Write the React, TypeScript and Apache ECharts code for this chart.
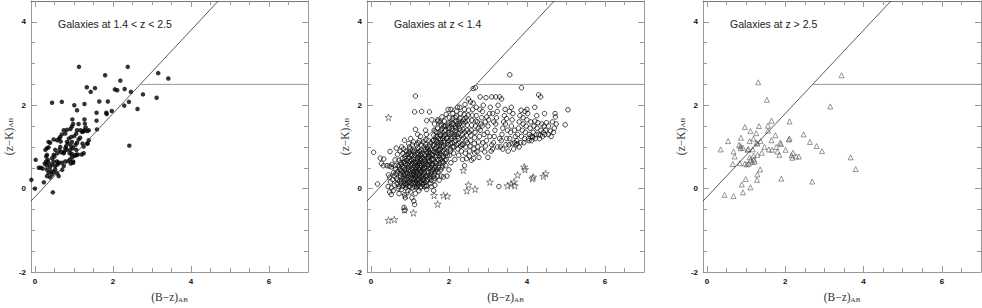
import React, { useEffect, useRef } from "react";
import * as echarts from "echarts";

// ---------- data ----------
const panelTitles = ["Galaxies at 1.4 < z < 2.5", "Galaxies at z < 1.4", "Galaxies at z > 2.5"];
const xTickLabels = [0, 2, 4, 6];
const xMinorTicks = [0.5, 1, 1.5, 2.5, 3, 3.5, 4.5, 5, 5.5, 6.5];
const yTickLabels = [-2, 0, 2, 4];
const yMajorTicks = [0, 2, 4];
const yMinorTicks = [-1.5, -1, -0.5, 0.5, 1, 1.5, 2.5, 3, 3.5];
const xRange = [-0.1, 7];
const yRange = [-2, 4.5];

// BzK selection boundaries
const diagonalLine = [[-0.1, -0.3], [4.7, 4.5]];
const horizontalLine = [[2.7, 2.5], [7, 2.5]];

// panel 1: 1.4 < z < 2.5 (filled circles)
const midZ = [
  [-0.09,0.21],[0.0,0.0],[0.02,0.69],[0.1,0.5],[0.15,0.5],[0.2,0.48],[0.23,0.15],[0.46,-0.09],
  [0.44,2.06],[0.69,2.08],[1.01,2.0],[1.08,1.88],[1.13,2.92],[1.27,2.03],[1.33,2.43],[1.43,2.32],
  [1.54,2.41],[1.65,2.09],[1.8,2.72],[1.87,2.09],[2.05,2.38],[2.11,2.36],[2.19,2.59],[2.3,2.39],
  [2.38,2.92],[2.46,2.32],[2.29,1.99],[2.41,2.08],[2.63,1.91],[2.77,2.26],[3.16,2.77],[3.42,2.64],
  [3.12,2.18],[2.42,1.03],[1.97,1.86],[1.83,1.82],[1.84,1.79],[1.58,1.82],[1.58,1.63],[1.59,1.42],
  [1.35,1.08],[1.22,1.08],[1.27,1.66],[1.28,1.56],[1.3,1.47],[1.27,1.4],[1.24,1.37],[1.12,1.55],
  [0.96,1.66],[0.98,1.55],[0.95,1.49],[0.91,1.43],[1.08,1.4],[1.06,1.32],[1.01,1.26],[1.17,1.4],
  [1.21,1.36],[1.34,1.38],[1.38,1.4],[0.74,1.4],[0.82,1.41],[0.78,1.32],[0.69,1.3],[0.65,1.24],
  [0.57,1.16],[0.48,1.18],[0.39,1.1],[0.35,1.12],[0.62,1.2],[0.66,1.13],[0.87,1.2],[0.93,1.24],
  [0.82,1.12],[0.86,1.08],[0.8,1.02],[0.78,0.97],[0.82,0.93],[0.75,0.89],[0.74,0.85],[0.95,1.12],
  [0.93,1.02],[0.98,0.97],[0.91,0.93],[1.04,1.05],[1.06,0.93],[1.04,0.81],[1.12,1.18],[1.16,1.22],
  [1.08,1.1],[1.25,1.01],[1.34,1.08],[1.38,1.16],[1.0,0.78],[1.06,0.8],[1.1,0.82],[1.2,0.82],
  [1.25,0.85],[0.65,1.0],[0.63,0.93],[0.67,0.87],[0.52,0.93],[0.57,0.85],[0.48,0.81],[0.5,0.77],
  [0.31,0.97],[0.35,0.99],[0.27,0.93],[0.31,0.81],[0.29,0.77],[0.33,0.69],[0.29,0.65],[0.35,0.62],
  [0.44,0.73],[0.48,0.65],[0.44,0.58],[0.52,0.54],[0.39,0.52],[0.57,0.65],[0.58,0.58],[0.61,0.62],
  [0.31,0.46],[0.35,0.38],[0.41,0.42],[0.48,0.4],[0.52,0.46],[0.31,0.3],[0.39,0.27],[0.44,0.34],
  [0.57,0.37],[0.61,0.3],[0.69,0.62],[0.74,0.54],[0.78,0.65],[0.7,0.45],[0.86,0.66],[0.9,0.7],
  [0.95,0.76],[0.98,0.62],[0.92,0.6],[0.3,0.56],[0.25,0.6],[0.89,0.85],[0.95,0.83],[0.98,0.65],
];

// panel 2: z < 1.4 galaxies (open circles)
const lowZ = [
  [0.07,0.87],[0.17,0.11],[0.24,0.73],[0.33,0.71],[0.32,0.55],[0.27,0.6],[0.41,0.55],[0.47,0.54],
  [0.49,0.89],[0.54,0.58],[0.62,0.69],[0.65,0.97],[0.52,0.52],[0.45,0.33],[0.48,0.27],[0.5,0.16],
  [0.44,0.05],[0.53,0.02],[0.48,-0.08],[0.52,-0.14],[0.57,-0.05],[0.6,0.08],[0.56,0.22],[0.58,0.38],
  [0.63,0.47],[0.6,0.3],[0.67,0.12],[0.66,0.25],[0.69,0.4],[0.7,0.55],[0.72,0.68],[0.68,0.82],
  [0.75,0.9],[0.86,1.16],[0.79,1.0],
  [0.72,0.05],[0.74,0.18],[0.76,0.3],[0.75,0.45],[0.78,0.58],[0.8,0.72],[0.82,0.85],[0.84,0.95],
  [0.77,0.12],[0.8,0.25],[0.82,0.4],[0.85,0.5],[0.86,0.65],[0.88,0.78],[0.9,0.9],[0.79,-0.02],
  [0.83,0.08],[0.86,0.2],[0.88,0.33],[0.9,0.45],[0.89,0.6],[0.86,-0.15],[0.88,-0.22],[0.85,-0.45],
  [0.87,-0.52],[0.72,-0.12],[0.75,0.37],[0.8,0.52],[0.84,0.28],[0.87,0.12],[0.9,0.02],
  [0.92,0.1],[0.93,0.22],[0.94,0.36],[0.95,0.5],[0.96,0.62],[0.97,0.75],[0.98,0.88],[0.99,1.0],
  [1.0,0.05],[1.0,0.18],[1.01,0.3],[1.02,0.42],[1.03,0.55],[1.04,0.68],[1.05,0.8],[1.06,0.92],
  [1.07,1.05],[1.08,0.12],[1.08,0.25],[1.09,0.38],[1.1,0.5],[1.1,0.62],[1.1,0.75],[1.1,0.88],
  [0.95,-0.05],[1.02,-0.08],[0.98,0.15],[1.05,0.35],[0.93,0.58],[1.07,0.45],[1.03,0.7],[0.96,0.83],
  [1.0,0.95],[1.09,1.12],[0.97,1.08],[1.02,1.2],[1.1,-0.3],[1.12,-0.38],[1.05,-0.22],
  [1.12,0.05],[1.13,0.15],[1.14,0.27],[1.15,0.38],[1.16,0.5],[1.17,0.62],[1.18,0.74],[1.19,0.86],
  [1.2,0.98],[1.21,1.1],[1.22,0.08],[1.23,0.2],[1.24,0.32],[1.25,0.44],[1.26,0.56],[1.27,0.68],
  [1.28,0.8],[1.29,0.92],[1.3,1.04],[1.15,0.1],[1.18,0.22],[1.2,0.35],[1.22,0.47],[1.24,0.6],
  [1.26,0.72],[1.28,0.42],[1.19,0.55],[1.16,0.02],[1.25,0.15],[1.29,0.28],[1.12,0.92],[1.17,1.05],
  [1.24,1.15],[1.27,1.25],[1.14,1.42],[1.2,1.3],[1.29,0.05],[1.23,-0.05],[1.14,-0.12],[1.2,0.68],
  [1.26,0.88],[1.3,0.6],[1.3,0.15],[1.13,0.34],[1.21,0.82],[1.14,2.22],[1.12,1.84],
  [1.32,0.1],[1.33,0.22],[1.34,0.34],[1.35,0.46],[1.36,0.58],[1.37,0.7],[1.38,0.82],[1.39,0.94],
  [1.4,1.06],[1.41,1.18],[1.42,0.05],[1.43,0.18],[1.44,0.3],[1.45,0.42],[1.46,0.54],[1.47,0.66],
  [1.48,0.78],[1.49,0.9],[1.5,1.02],[1.35,0.28],[1.38,0.5],[1.41,0.62],[1.44,0.74],[1.47,0.38],
  [1.33,0.75],[1.36,1.0],[1.42,1.3],[1.48,1.15],[1.5,0.25],[1.31,0.42],[1.39,0.15],[1.46,0.86],
  [1.34,1.12],[1.4,1.4],[1.3,1.85],[1.44,1.0],[1.49,0.58],[1.37,0.05],[1.43,-0.02],
  [1.52,0.12],[1.53,0.28],[1.54,0.42],[1.55,0.55],[1.56,0.68],[1.57,0.8],[1.58,0.92],[1.59,1.04],
  [1.6,1.16],[1.61,1.28],[1.62,0.2],[1.63,0.35],[1.64,0.5],[1.65,0.62],[1.66,0.75],[1.67,0.88],
  [1.68,1.0],[1.69,1.12],[1.7,1.24],[1.55,0.05],[1.6,0.45],[1.58,0.72],[1.65,0.95],[1.62,1.4],
  [1.56,1.65],[1.7,0.3],[1.68,0.6],[1.54,1.1],[1.67,1.36],[1.52,0.85],[1.64,0.08],[1.61,-0.05],
  [1.7,0.85],[1.59,0.58],[1.66,1.18],[1.5,1.84],[1.63,1.55],[1.43,1.63],[1.71,1.65],
  [1.72,0.4],[1.73,0.55],[1.74,0.68],[1.75,0.8],[1.76,0.92],[1.77,1.04],[1.78,1.16],[1.79,1.28],
  [1.8,1.4],[1.81,1.52],[1.82,0.5],[1.83,0.65],[1.84,0.78],[1.85,0.9],[1.86,1.02],[1.87,1.14],
  [1.88,1.26],[1.89,1.38],[1.9,1.5],[1.75,0.2],[1.8,0.3],[1.85,0.62],[1.78,0.95],[1.72,1.62],
  [1.82,1.72],[1.88,1.62],[1.74,1.1],[1.9,0.85],[1.86,0.28],[1.79,0.7],[1.71,1.45],[1.84,1.2],
  [1.77,1.6],
  [1.92,0.55],[1.93,0.7],[1.94,0.85],[1.95,0.98],[1.96,1.1],[1.97,1.22],[1.98,1.34],[1.99,1.46],
  [2.0,1.58],[2.01,1.7],[2.02,0.8],[2.03,0.95],[2.04,1.08],[2.05,1.2],[2.06,1.32],[2.07,1.44],
  [2.08,1.56],[2.09,1.68],[2.1,1.8],[1.95,0.3],[2.0,0.45],[2.05,0.62],[1.98,1.9],[2.05,1.9],
  [1.93,1.78],[2.1,1.0],[2.0,1.15],[1.91,1.3],[2.08,1.25],[1.96,1.52],
  [2.12,0.85],[2.13,1.0],[2.14,1.12],[2.15,1.25],[2.16,1.38],[2.17,1.5],[2.18,1.62],[2.19,1.74],
  [2.2,1.86],[2.22,1.95],[2.23,0.95],[2.24,1.08],[2.25,1.2],[2.26,1.32],[2.27,1.44],[2.28,1.56],
  [2.29,1.68],[2.3,1.8],[2.15,0.7],[2.2,1.3],[2.25,0.8],[2.18,1.15],[2.3,1.02],[2.21,1.55],
  [2.28,1.95],
  [2.32,0.9],[2.33,1.05],[2.34,1.18],[2.35,1.3],[2.36,1.42],[2.37,1.55],[2.38,1.66],[2.39,1.78],
  [2.4,1.9],[2.41,2.02],[2.42,0.85],[2.43,1.0],[2.44,1.15],[2.45,1.28],[2.46,1.4],[2.47,1.52],
  [2.48,1.64],[2.49,1.76],[2.5,1.88],[2.35,0.7],[2.4,0.55],[2.45,0.72],[2.38,1.22],[2.48,1.1],
  [2.5,2.15],[2.42,1.6],
  [2.52,0.78],[2.53,0.9],[2.54,1.02],[2.55,1.15],[2.56,1.28],[2.57,1.4],[2.58,1.52],[2.59,1.64],
  [2.6,1.76],[2.61,1.9],[2.62,2.05],[2.63,0.72],[2.64,0.95],[2.65,1.08],[2.66,1.22],[2.67,1.35],
  [2.68,1.5],[2.69,1.62],[2.7,1.75],[2.55,2.08],[2.68,2.42],[2.62,2.4],[2.7,1.95],[2.58,0.68],
  [2.66,0.85],[2.52,1.35],
  [2.72,0.88],[2.74,1.0],[2.76,1.12],[2.78,1.25],[2.8,1.4],[2.82,1.55],[2.84,1.7],[2.86,1.85],
  [2.88,2.0],[2.8,2.2],[2.73,1.6],[2.77,0.75],[2.83,0.95],[2.87,1.1],[2.9,1.3],[2.75,1.45],
  [2.85,1.5],[2.79,1.9],
  [2.92,0.88],[2.94,1.02],[2.96,1.15],[2.98,1.35],[3.0,1.5],[3.02,1.65],[3.04,1.8],[3.06,1.95],
  [2.95,2.18],[3.08,0.9],[3.1,1.05],[2.93,1.6],[3.0,0.75],[3.05,1.25],[3.1,2.2],[2.97,1.72],
  [3.12,0.95],[3.14,1.1],[3.16,1.25],[3.18,1.4],[3.2,1.55],[3.22,1.7],[3.24,1.85],[3.26,2.0],
  [3.2,2.2],[3.28,0.05],[3.15,1.6],[3.25,1.0],[3.3,1.2],[3.3,2.2],[3.12,1.8],
  [3.32,1.0],[3.34,1.15],[3.36,1.3],[3.38,1.45],[3.4,1.6],[3.42,1.75],[3.44,1.9],[3.35,2.15],
  [3.46,1.05],[3.48,1.2],[3.5,1.4],[3.45,1.55],[3.38,0.95],[3.48,1.68],
  [3.52,0.9],[3.54,1.05],[3.56,1.2],[3.58,1.35],[3.6,1.5],[3.62,1.65],[3.64,1.8],[3.56,2.73],
  [3.66,0.95],[3.68,1.1],[3.7,1.25],[3.55,1.85],[3.6,1.95],[3.68,1.4],[3.62,1.08],
  [3.72,1.05],[3.74,1.15],[3.76,1.3],[3.78,1.45],[3.8,1.6],[3.82,1.75],[3.84,1.1],[3.86,1.25],
  [3.88,1.4],[3.9,1.55],[3.86,2.42],[3.85,1.88],[3.75,1.08],[3.8,1.0],[3.9,1.7],
  [3.92,1.1],[3.94,1.2],[3.96,1.35],[3.98,1.5],[4.0,1.65],[4.02,1.8],[4.04,1.2],[4.06,1.3],
  [4.08,1.45],[4.1,1.6],[4.0,1.9],[3.95,1.85],[4.05,1.15],[4.1,1.25],
  [4.12,1.15],[4.14,1.25],[4.16,1.35],[4.18,1.5],[4.2,1.62],[4.22,1.2],[4.24,1.3],[4.26,1.45],
  [4.28,1.58],[4.3,2.25],[4.2,1.95],[4.15,1.22],[4.3,1.3],[4.25,1.75],
  [4.32,1.2],[4.34,1.28],[4.36,1.4],[4.38,1.55],[4.4,1.25],[4.42,1.35],[4.44,1.5],[4.46,1.3],
  [4.48,1.4],[4.35,2.2],[4.5,1.58],[4.45,1.8],
  [4.55,1.3],[4.6,1.38],[4.62,1.25],[4.68,1.35],[4.7,1.45],[4.72,1.8],[4.73,1.72],[4.75,1.55],
  [4.98,1.53],[5.05,1.89],[4.65,1.6],[4.55,1.5],
  // dense core
  [0.62,0.55],[0.65,0.35],[0.68,0.2],[0.7,0.0],[0.73,0.52],[0.76,0.62],[0.78,0.42],[0.79,0.18],
  [0.81,0.05],[0.83,0.62],[0.84,0.35],[0.86,0.45],[0.87,0.72],[0.88,0.25],[0.89,0.08],[0.91,0.38],
  [0.92,0.68],[0.93,0.82],[0.94,0.15],[0.95,0.28],[0.96,0.44],[0.97,0.55],[0.98,0.05],[0.99,0.35],
  [1.0,0.65],[1.01,0.82],[1.02,0.12],[1.03,0.25],[1.04,0.48],[1.05,0.6],[1.06,0.02],[1.07,0.18],
  [1.08,0.32],[1.09,0.7],[1.1,0.42],[1.11,0.22],[1.12,0.56],[1.13,0.8],[1.14,0.62],[1.15,0.45],
  [1.16,0.3],[1.17,0.18],[1.18,0.05],[1.19,0.4],[1.2,0.12],[1.21,0.25],[1.22,0.62],[1.23,0.75],
  [1.24,0.9],[1.25,0.5],[1.26,0.38],[1.27,0.02],[1.28,0.18],[1.29,0.55],[1.3,0.72],[1.31,0.85],
  [1.32,0.3],[1.33,0.48],[1.34,0.62],[1.35,0.12],[1.36,0.2],[1.37,0.4],[1.38,0.65],[1.39,0.78],
  [1.4,0.3],[1.41,0.5],[1.42,0.88],[1.43,0.08],[1.44,0.58],[1.45,0.22],[1.46,0.95],[1.47,0.72],
  [1.48,0.48],[1.49,0.32],[1.5,0.65],[1.51,0.78],[1.52,0.5],[1.53,0.95],[1.54,0.2],[1.55,0.35],
  [1.56,0.82],[1.57,0.6],[1.58,0.45],[1.59,1.15],[1.6,0.3],[1.61,0.7],[1.62,0.88],[1.63,1.05],
  [1.64,0.25],[1.65,0.42],[1.66,0.55],[1.67,1.25],[1.68,0.8],[1.69,0.45],[1.7,1.05],[1.71,0.7],
  [1.72,0.92],[1.73,1.2],[1.74,0.5],[1.75,1.35],[1.76,0.62],[1.77,0.85],[1.78,1.3],[1.79,0.45],
  [1.8,1.1],[1.81,0.8],[1.82,1.0],[1.83,1.45],[1.84,0.55],[1.85,1.25],[1.86,0.75],[1.87,1.5],
  [1.88,0.95],[1.89,1.1],[1.9,0.68],[1.92,1.4],[1.94,1.2],[1.96,0.8],[1.98,1.05],[2.0,1.3],
  [2.02,1.45],[2.04,0.9],[2.06,1.6],[2.08,1.1],[2.1,1.4],[2.12,1.55],[2.14,1.3],[2.16,1.7],
  [2.18,1.45],[2.2,1.05],[2.22,1.25],[2.24,1.5],[2.26,1.62],[2.3,1.4],[2.34,1.6],[2.36,1.05],
  [2.4,1.35],[2.44,1.7],
];

// panel 2: stars
const stars = [
  [0.45,1.71],[0.45,-0.76],[0.6,-0.74],[0.86,-0.51],[1.09,-0.58],[1.62,-0.16],[1.71,-0.37],
  [1.86,-0.16],[1.96,-0.18],[2.37,0.44],[2.5,0.09],[2.46,-0.05],[2.67,-0.01],[3.05,0.16],
  [3.5,0.07],[3.59,0.11],[3.67,0.16],[3.69,0.07],[3.76,0.33],[3.93,0.52],[3.95,0.46],
  [4.16,0.28],[4.14,0.24],[4.42,0.3],[4.48,0.36],[0.88,-0.16],
];

// panel 3: z > 2.5 (open triangles)
const highZ = [
  [1.31,2.55],[1.53,2.13],[3.44,2.72],[3.15,1.97],[1.65,1.63],[2.11,1.61],[1.56,1.51],[1.33,1.5],
  [0.97,1.48],[1.11,1.38],[1.26,1.33],[1.56,1.39],[1.75,1.28],[1.65,1.16],[2.11,1.2],[2.09,1.18],
  [2.47,1.3],[0.87,1.22],[0.54,1.14],[1.09,1.14],[1.27,1.1],[1.29,1.08],[1.37,1.14],[1.47,1.0],
  [1.58,0.94],[1.66,0.93],[1.77,1.0],[1.87,1.1],[1.89,1.07],[1.8,0.89],[1.85,0.81],[2.01,0.93],
  [2.2,0.86],[2.16,0.8],[2.18,0.74],[2.28,0.77],[2.35,0.77],[2.63,1.12],[2.8,1.02],[2.94,0.9],
  [0.35,0.94],[0.82,1.05],[0.86,1.02],[0.86,0.97],[0.68,0.89],[0.71,0.77],[1.06,0.95],[1.04,0.93],
  [1.17,0.94],[1.19,1.2],[0.92,0.98],[0.66,0.59],[0.84,0.61],[0.97,0.6],[1.02,0.58],[1.07,0.6],
  [1.11,0.68],[1.16,0.64],[1.2,0.7],[1.22,0.65],[1.09,0.75],[1.19,0.79],[1.29,0.81],[1.4,0.86],
  [1.36,0.46],[1.29,0.34],[1.28,0.21],[0.99,0.23],[0.89,0.1],[1.11,0.03],[0.92,-0.09],[0.45,-0.15],
  [0.68,-0.18],[1.9,0.24],[2.69,0.17],[3.67,0.75],[3.8,0.47],
];

const STAR_PATH = "path://M50,0 L61,35 L98,35 L68,57 L79,91 L50,70 L21,91 L32,57 L2,35 L39,35 Z";

const gridLefts = [31, 367, 703];
const gridWidths = [277, 277, 278];

function buildOption() {
  const axisColor = "#999";
  const labelStyle = { fontSize: 8, fontWeight: "bold", color: "#111", fontFamily: "Liberation Sans" };
  const nameRich = {
    a: { fontSize: 11.5, fontFamily: "Liberation Serif", color: "#333", lineHeight: 14, verticalAlign: "bottom" },
    b: { fontSize: 7, fontFamily: "Liberation Serif", color: "#333", lineHeight: 8, verticalAlign: "bottom" },
  };
  const grid: any[] = [];
  const xAxis: any[] = [];
  const yAxis: any[] = [];
  const title: any[] = [];
  for (let i = 0; i < 3; i++) {
    grid.push({ left: gridLefts[i], top: 1, width: gridWidths[i], height: 277 });
    const baseX = { gridIndex: i, type: "value", min: xRange[0], max: xRange[1], splitLine: { show: false } };
    const baseY = { gridIndex: i, type: "value", min: yRange[0], max: yRange[1], splitLine: { show: false } };
    const line = (show: boolean) => ({ show, onZero: false, lineStyle: { color: axisColor, width: 1 } });
    const tick = (vals: number[], len: number) => ({ show: true, inside: true, length: len, customValues: vals, lineStyle: { color: axisColor } });
    xAxis.push({
      ...baseX, position: "bottom", axisLine: line(true), axisTick: tick(xTickLabels, 6),
      axisLabel: { show: true, customValues: xTickLabels, margin: 5, ...labelStyle },
      name: "{a|(B−z)}{b|AB}", nameLocation: "middle", nameGap: 17, nameTextStyle: { rich: nameRich },
    });
    xAxis.push({ ...baseX, position: "bottom", axisLine: line(false), axisTick: tick(xMinorTicks, 4), axisLabel: { show: false } });
    xAxis.push({ ...baseX, position: "top", axisLine: { show: true, onZero: false, lineStyle: { color: "#777", width: 1 } }, axisTick: tick(xTickLabels, 6), axisLabel: { show: false } });
    xAxis.push({ ...baseX, position: "top", axisLine: line(false), axisTick: tick(xMinorTicks, 4), axisLabel: { show: false } });
    yAxis.push({
      ...baseY, position: "left", axisLine: line(true), axisTick: tick(yMajorTicks, 6),
      axisLabel: { show: true, customValues: yTickLabels, margin: 5, ...labelStyle },
      name: "{a|(z−K)}{b|AB}", nameLocation: "middle", nameGap: 14, nameRotate: 90, nameTextStyle: { rich: nameRich },
    });
    yAxis.push({ ...baseY, position: "left", axisLine: line(false), axisTick: tick(yMinorTicks, 4), axisLabel: { show: false } });
    yAxis.push({ ...baseY, position: "right", axisLine: line(true), axisTick: tick(yMajorTicks, 6), axisLabel: { show: false } });
    yAxis.push({ ...baseY, position: "right", axisLine: line(false), axisTick: tick(yMinorTicks, 4), axisLabel: { show: false } });
    title.push({
      text: panelTitles[i], left: gridLefts[i] + 22, top: 13,
      textStyle: { fontSize: 10.5, fontWeight: "normal", color: "#222", fontFamily: "Liberation Sans" },
    });
  }

  const series: any[] = [];
  for (let i = 0; i < 3; i++) {
    const ax = { xAxisIndex: i * 4, yAxisIndex: i * 4 };
    series.push({ type: "line", ...ax, data: diagonalLine, symbol: "none", lineStyle: { color: "#333", width: 0.8 }, silent: true, clip: true });
    series.push({ type: "line", ...ax, data: horizontalLine, symbol: "none", lineStyle: { color: "#999", width: 1 }, silent: true, clip: true });
  }
  series.push({ type: "scatter", xAxisIndex: 0, yAxisIndex: 0, data: midZ, symbol: "circle", symbolSize: 4.5, itemStyle: { color: "#000" } });
  series.push({
    type: "scatter", xAxisIndex: 4, yAxisIndex: 4, data: lowZ, symbol: "circle", symbolSize: 4.5,
    itemStyle: { color: "rgba(0,0,0,0)", borderColor: "#111", borderWidth: 1 },
  });
  series.push({
    type: "scatter", xAxisIndex: 4, yAxisIndex: 4, data: stars, symbol: STAR_PATH, symbolSize: 7,
    itemStyle: { color: "rgba(0,0,0,0)", borderColor: "#333", borderWidth: 0.7 },
  });
  series.push({
    type: "scatter", xAxisIndex: 8, yAxisIndex: 8, data: highZ, symbol: "triangle", symbolSize: 5,
    itemStyle: { color: "rgba(0,0,0,0)", borderColor: "#444", borderWidth: 0.7 },
  });

  return { animation: false, backgroundColor: "#fff", title, grid, xAxis, yAxis, series };
}

export default function App() {
  const ref = useRef<HTMLDivElement>(null);
  useEffect(() => {
    if (!ref.current) return;
    const chart = echarts.init(ref.current, undefined, { renderer: "svg" });
    chart.setOption(buildOption() as any);
    return () => chart.dispose();
  }, []);
  return <div ref={ref} style={{ position: "absolute", left: 0, top: 0, width: 982, height: 308 }} />;
}
